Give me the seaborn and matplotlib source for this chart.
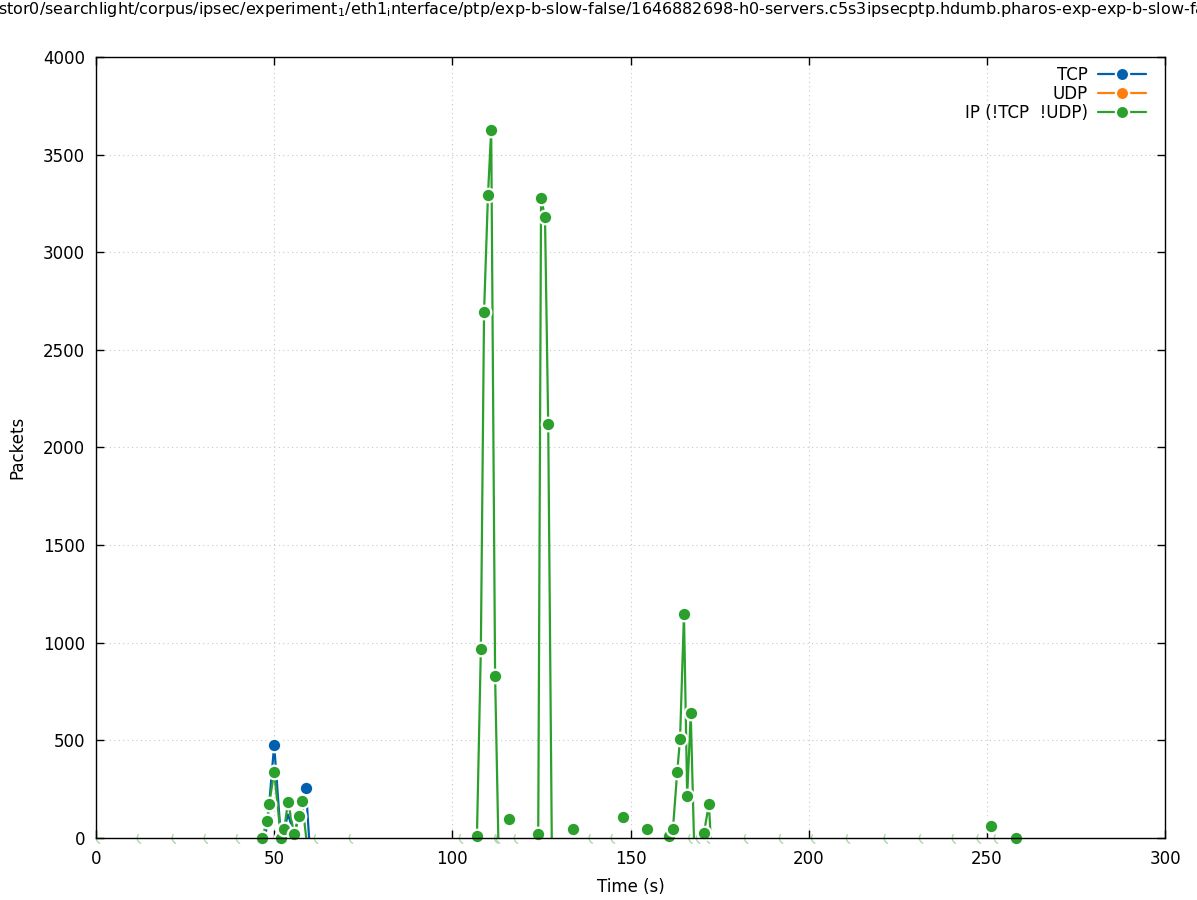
import matplotlib

matplotlib.use("Agg")

import matplotlib.pyplot as plt
import pandas as pd
import seaborn as sns
from matplotlib.lines import Line2D
from matplotlib.path import Path

# values (time in seconds, packet counts)
# segment: samples joined by one line; marked: sample drawn with a dot
tcp_times = [47.5, 48.6, 50.0, 51.9, 52.8, 53.9, 55.6, 57.0, 58.9, 59.8]
tcp_packets = [0, 174, 476, 0, 46, 120, 20, 113, 256, 0]
tcp_segment = [1, 1, 1, 1, 1, 1, 1, 1, 1, 1]
tcp_marked = [False, False, True, False, False, False, False, False, True, False]

udp_times = []
udp_packets = []

ip_times = [46.6, 48.0, 48.6, 50.0, 51.9, 52.8, 53.9, 55.6, 57.0, 57.8, 59.0,
            106.2, 106.9, 108.0, 108.9, 110.0, 110.9, 112.0, 112.9,
            115.9,
            124.1, 124.9, 126.0, 126.9, 127.9,
            133.9, 147.9, 154.6,
            160.8, 161.9, 163.1, 163.9, 165.0, 165.9, 166.9, 167.8,
            170.6, 172.0, 172.5,
            251.2, 258.2]
ip_packets = [0, 87, 174, 338, 0, 46, 184, 20, 113, 190, 0,
              0, 10, 968, 2694, 3293, 3626, 830, 0,
              97,
              20, 3278, 3180, 2120, 0,
              45, 108, 45,
              10, 45, 338, 507, 1147, 215, 640, 0,
              25, 174, 0,
              61, 0]
ip_segment = [1] * 11 + [2] * 8 + [3] + [4] * 5 + [5, 6, 7] + [8] * 8 + [9] * 3 + [10, 11]
ip_marked = ([True] * 10 + [False]
             + [False] + [True] * 6 + [False]
             + [True]
             + [True] * 4 + [False]
             + [True] * 3
             + [True] * 7 + [False]
             + [True] * 2 + [False]
             + [True] * 2)

# zero-valued samples that only show as faint slivers along the baseline
ghost_times = [1.7, 13.2, 23.0, 32.0, 41.0, 62.9, 72.7, 103.6, 113.5, 114.0,
               119.0, 140.0, 146.2, 168.0, 170.1, 172.9, 183.6, 193.4, 202.4,
               212.2, 222.8, 232.7, 241.9, 248.9, 253.7]
ghost_packets = [0] * len(ghost_times)

title_text = (r"stor0/searchlight/corpus/ipsec/experiment$_1$/eth1$_\mathrm{i}$nterface/ptp/"
              "exp-b-slow-false/1646882698-h0-servers.c5s3ipsecptp.hdumb."
              "pharos-exp-exp-b-slow-false")

tcp_color = "#0060ad"
udp_color = "#ff7f0e"
ip_color = "#2ca02c"

sns.set_style("ticks", {
    "xtick.direction": "in",
    "ytick.direction": "in",
    "axes.edgecolor": "black",
    "text.color": "black",
    "axes.labelcolor": "black",
    "xtick.color": "black",
    "ytick.color": "black",
})
plt.rcParams["font.family"] = ["DejaVu Sans"]
plt.rcParams["mathtext.fontset"] = "dejavusans"

fig = plt.figure(figsize=(11.97, 9.0), dpi=100)
ax = fig.add_axes([0.0802, 0.0689, 0.8931, 0.8678])

tcp_df = pd.DataFrame({"time": tcp_times, "packets": tcp_packets,
                       "segment": tcp_segment, "marked": tcp_marked})
ip_df = pd.DataFrame({"time": ip_times, "packets": ip_packets,
                      "segment": ip_segment, "marked": ip_marked})
ghost_df = pd.DataFrame({"time": ghost_times, "packets": ghost_packets})

line_width = 1.6
dot_size = 95

sns.scatterplot(data=ghost_df, x="time", y="packets", ax=ax,
                marker=Path.arc(140, 250), s=70, facecolor="none",
                edgecolor="#a8d8a8", linewidth=1.0, clip_on=False, zorder=2)

for df, color, z in [(tcp_df, tcp_color, 3), (ip_df, ip_color, 4)]:
    sns.lineplot(data=df, x="time", y="packets", units="segment", ax=ax,
                 color=color, sort=False, estimator=None, linewidth=line_width,
                 zorder=z)
    sns.scatterplot(data=df[df["marked"]], x="time", y="packets", ax=ax,
                    color=color, s=dot_size, edgecolor="white", linewidth=1.6,
                    clip_on=False, zorder=z + 0.5)

ax.set_xlim(0, 300)
ax.set_ylim(0, 4000)
ax.set_xticks(range(0, 301, 50))
ax.set_yticks(range(0, 4001, 500))
ax.tick_params(axis="both", which="major", length=6, width=1, labelsize=12,
               top=True, right=True, color="black")
ax.tick_params(axis="x", pad=9)
ax.tick_params(axis="y", pad=8)
ax.grid(True, color="#c8c8c8", linestyle=(0, (1, 3)), linewidth=0.8)
ax.set_axisbelow(True)
for spine in ax.spines.values():
    spine.set_linewidth(1.0)
    spine.set_zorder(5)

ax.set_xlabel("Time (s)", fontsize=12, labelpad=7)
ax.set_ylabel("Packets", fontsize=12)
ax.yaxis.set_label_coords(-0.065, 0.5)

marker_style = dict(marker="o", markersize=9.5, markeredgecolor="white",
                    markeredgewidth=1.6, linewidth=line_width)
handles = [
    Line2D([], [], color=tcp_color, **marker_style),
    Line2D([], [], color=udp_color, **marker_style),
    Line2D([], [], color=ip_color, **marker_style),
]
ax.legend(handles, ["TCP", "UDP", "IP (!TCP  !UDP)"], loc="upper right",
          bbox_to_anchor=(0.9935, 1.004), markerfirst=False, frameon=False,
          fontsize=12, numpoints=1, handlelength=2.9, handletextpad=0.6,
          labelspacing=0.08, borderaxespad=0.3)

fig.text(-0.002, 0.989, title_text, ha="left", va="center", fontsize=11.5)

fig.savefig("out.png", dpi=100)
